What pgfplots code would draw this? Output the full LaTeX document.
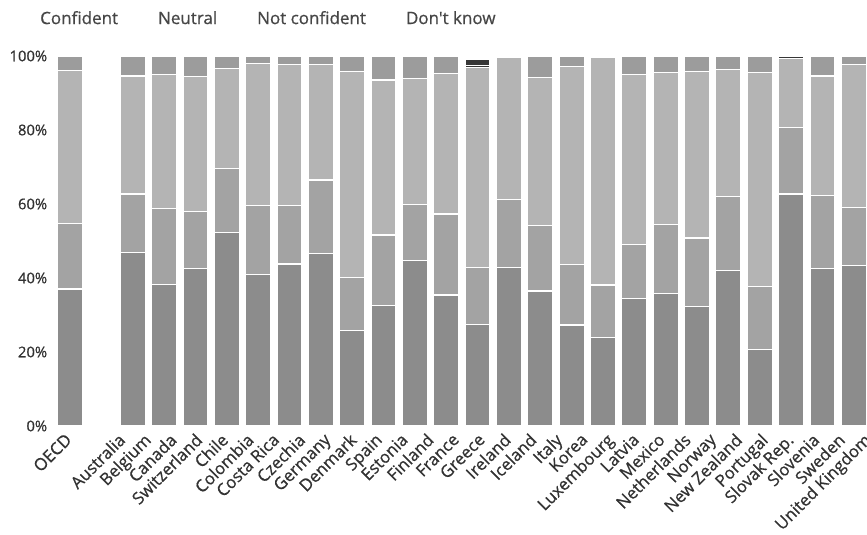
\documentclass[border=0pt]{standalone}
\usepackage{fontspec}
\setmainfont{Open Sans}
\newfontfamily\semib{Open Sans}[FakeBold=0.7]
\usepackage{pgfplots}
\pgfplotsset{compat=1.18}
\usepackage{pgfplotstable}
\definecolor{cConf}{RGB}{140,140,140}
\definecolor{cNeu}{RGB}{163,163,163}
\definecolor{cNot}{RGB}{180,180,180}
\definecolor{cDk}{RGB}{156,156,156}
\definecolor{cExt}{RGB}{55,55,55}
\definecolor{legendgray}{RGB}{70,70,70}
\definecolor{tickgray}{RGB}{50,50,50}
\pgfplotstableread{
x  conf neu  notc dk  ea  eb
0  37.0 17.8 41.2 4.0 0   0
2  46.9 15.8 31.9 5.4 0   0
3  38.3 20.5 36.2 5.0 0   0
4  42.6 15.3 36.5 5.6 0   0
5  52.2 17.3 27.2 3.3 0   0
6  41.0 18.5 38.5 2.0 0   0
7  43.8 15.8 38.2 2.2 0   0
8  46.7 19.8 31.1 2.4 0   0
9  25.9 14.2 55.7 4.2 0   0
10 32.5 19.1 41.9 6.5 0   0
11 44.7 15.2 34.1 6.0 0   0
12 35.4 21.9 38.0 4.7 0   0
13 27.5 15.3 54.0 0   0.6 1.6
14 42.9 18.4 38.3 0   0.4 0
15 36.5 17.6 40.1 5.8 0   0
16 27.3 16.4 53.5 2.8 0   0
17 24.0 14.1 61.6 0.3 0   0
18 34.5 14.6 45.9 5.0 0   0
19 35.9 18.6 41.0 4.5 0   0
20 32.2 18.6 45.1 4.1 0   0
21 42.0 20.0 34.4 3.6 0   0
22 20.7 17.1 57.7 4.5 0   0
23 62.7 18.0 18.6 0   0.7 0
24 42.6 19.6 32.4 5.4 0   0
25 43.3 15.7 38.6 2.4 0   0
}\data
\begin{document}
\begin{tikzpicture}[x=1pt,y=1pt]
\useasboundingbox (0,0) rectangle (867,535);
\begin{axis}[
  at={(70pt,109pt)}, anchor=origin,
  x=31.35pt, y=3.7pt,
  xmin=-0.5, xmax=25.5, ymin=0, ymax=100,
  ybar stacked, bar width=25pt,
  axis line style={draw=none}, tick style={draw=none},
  ytick={0,20,40,60,80,100},
  yticklabels={0\%,20\%,40\%,60\%,80\%,100\%},
  yticklabel style={font=\semib\fontsize{14.8}{17}\selectfont, text=tickgray, inner sep=0pt, xshift=-7pt},
  xtick={0,1.70,2.52,3.34,4.16,4.98,5.80,6.62,7.44,8.26,9.08,9.90,10.72,11.54,12.36,13.18,14.00,14.82,15.64,16.46,17.28,18.10,18.92,19.74,20.56,21.38,22.20,23.02,23.84,24.66,25.48},
  xticklabels={OECD,Australia,Belgium,Canada,Switzerland,Chile,Colombia,Costa Rica,Czechia,Germany,Denmark,Spain,Estonia,Finland,France,Greece,Ireland,Iceland,Italy,Korea,Luxembourg,Latvia,Mexico,Netherlands,Norway,New Zealand,Portugal,Slovak Rep.,Slovenia,Sweden,United Kingdom},
  xticklabel style={xshift=-6pt, yshift=-6pt, rotate=45, anchor=north east, inner sep=0pt, font=\semib\fontsize{16.8}{19}\selectfont, text=tickgray},
  clip=false,
  legend columns=4,
  legend style={draw=none, fill=none, inner sep=0pt, nodes={inner sep=0pt},
    at={(axis description cs:-0.0176,1.122)}, anchor=north west,
    font=\semib\fontsize{17}{20}\selectfont, text=legendgray,
    /tikz/every even column/.append style={column sep=40pt}},
]
\addplot[fill=cConf, draw=white, line width=1.2pt, legend image code/.code={}] table[x=x, y=conf] {\data};
\addlegendentry{Confident}
\addplot[fill=cNeu, draw=white, line width=1.2pt, legend image code/.code={}] table[x=x, y=neu] {\data};
\addlegendentry{Neutral}
\addplot[fill=cNot, draw=white, line width=1.2pt, legend image code/.code={}] table[x=x, y=notc] {\data};
\addlegendentry{Not confident}
\addplot[fill=cDk, draw=white, line width=1.2pt, legend image code/.code={}] table[x=x, y=dk] {\data};
\addlegendentry{Don't know}
\addplot[fill=cExt, draw=white, line width=1.2pt, forget plot] table[x=x, y=ea] {\data};
\addplot[fill=cExt, draw=white, line width=1.2pt, forget plot] table[x=x, y=eb] {\data};
\end{axis}
\end{tikzpicture}
\end{document}
